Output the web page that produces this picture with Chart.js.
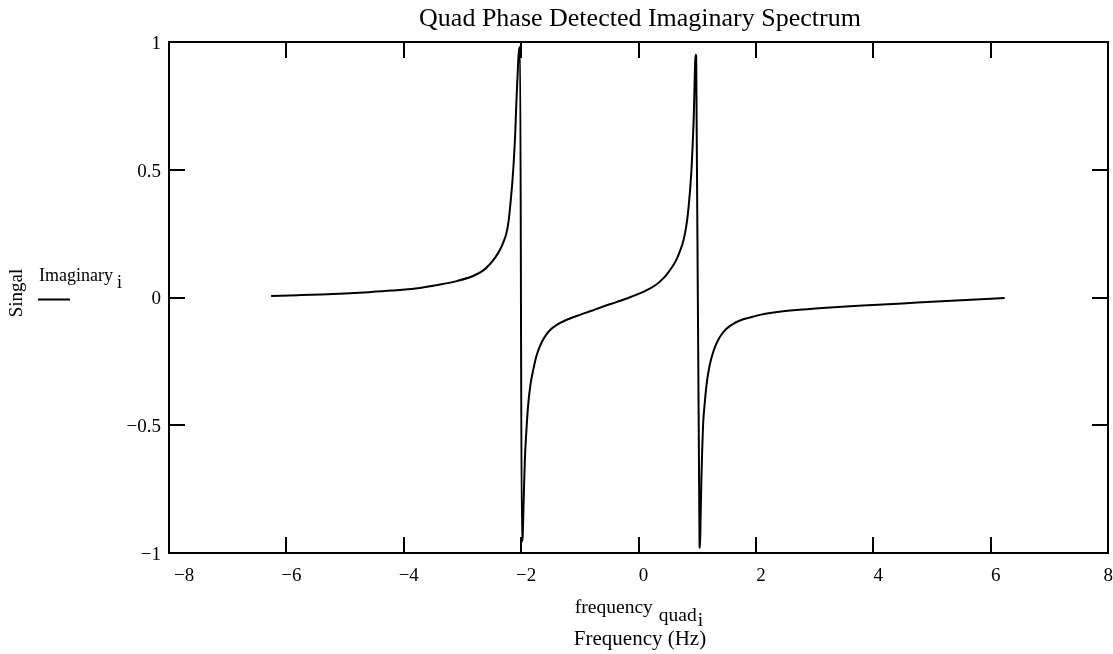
<!DOCTYPE html>
<html>
<head>
<meta charset="utf-8">
<title>Quad Phase Detected Imaginary Spectrum</title>
<script src="https://cdn.jsdelivr.net/npm/chart.js@4/dist/chart.umd.min.js"></script>
<style>
  html, body { margin: 0; padding: 0; background: #ffffff; }
  #wrap { width: 1113px; height: 654px; position: relative; }
  canvas { display: block; }
</style>
</head>
<body>
<div id="wrap"><canvas id="chart" width="1113" height="654"></canvas></div>
<script>
// Frequency axis samples (Hz) and the imaginary part of the quad-detected spectrum
const frequency = [
  -6.26, -5.8, -5.4, -5.0, -4.6, -4.2, -3.8, -3.4, -3.1, -2.82,
  -2.65, -2.53, -2.44, -2.36, -2.30, -2.25, -2.21, -2.18, -2.15, -2.125,
  -2.10, -2.08, -2.06, -2.045, -2.03, -2.018, -1.988, -1.975, -1.955, -1.937,
  -1.91, -1.88, -1.84, -1.80, -1.74, -1.68, -1.60, -1.51, -1.40, -1.25,
  -1.0, -0.8, -0.6, -0.4, -0.2, 0.0, 0.15, 0.3, 0.4, 0.48,
  0.59, 0.65, 0.70, 0.75, 0.79, 0.83, 0.86, 0.885, 0.905, 0.925,
  0.942, 0.955, 0.965, 0.975, 0.983, 1.04, 1.048, 1.06, 1.073, 1.085,
  1.10, 1.13, 1.16, 1.20, 1.245, 1.30, 1.36, 1.43, 1.50, 1.60,
  1.73, 1.90, 2.07, 2.4, 2.8, 3.2, 3.6, 4.0, 4.5, 5.0,
  5.5, 6.0, 6.24
];
const imaginary = [
  0.006, 0.009, 0.012, 0.016, 0.021, 0.027, 0.035, 0.050, 0.064, 0.084,
  0.105, 0.131, 0.157, 0.187, 0.218, 0.252, 0.305, 0.373, 0.45, 0.534,
  0.645, 0.77, 0.87, 0.945, 0.975, 0.98, -0.955, -0.94, -0.78, -0.64,
  -0.52, -0.42, -0.34, -0.29, -0.23, -0.19, -0.155, -0.128, -0.108, -0.09,
  -0.068, -0.052, -0.035, -0.02, -0.004, 0.014, 0.03, 0.05, 0.07, 0.09,
  0.125, 0.15, 0.178, 0.21, 0.248, 0.305, 0.37, 0.44, 0.51, 0.61,
  0.71, 0.83, 0.92, 0.95, 0.945, -0.975, -0.98, -0.84, -0.70, -0.60,
  -0.50, -0.41, -0.34, -0.28, -0.235, -0.195, -0.165, -0.14, -0.122, -0.105,
  -0.09, -0.078, -0.068, -0.056, -0.047, -0.040, -0.034, -0.029, -0.023, -0.017,
  -0.011, -0.005, -0.002
];

// Axis tick values
const xTickValues = [-8, -6, -4, -2, 0, 2, 4, 6, 8];
const yTickValues = [-1, -0.5, 0, 0.5, 1];

const SERIF = '"Liberation Serif", "Times New Roman", serif';
const INK = '#000000';

// Minus sign drawn as a true typographic minus
const fmt = v => (v < 0 ? '\u2212' + String(Math.abs(v)) : String(v));

const points = frequency.map((f, i) => ({ x: f, y: imaginary[i] }));

// Frame, inward ticks on all four sides, titles and the series key
const decorations = {
  id: 'decorations',
  afterDraw(chart) {
    const { ctx, chartArea: a, scales } = chart;
    const xs = scales.x, ys = scales.y;
    const tick = 16;
    ctx.save();
    ctx.strokeStyle = INK;
    ctx.lineWidth = 2;
    ctx.lineCap = 'butt';

    // frame
    ctx.strokeRect(Math.round(a.left), Math.round(a.top),
                   Math.round(a.right) - Math.round(a.left),
                   Math.round(a.bottom) - Math.round(a.top));

    ctx.beginPath();
    xTickValues.slice(1, -1).forEach(v => {
      const px = Math.round(xs.getPixelForValue(v));
      ctx.moveTo(px, a.bottom); ctx.lineTo(px, a.bottom - tick);
      ctx.moveTo(px, a.top); ctx.lineTo(px, a.top + tick);
    });
    yTickValues.slice(1, -1).forEach(v => {
      const py = Math.round(ys.getPixelForValue(v));
      ctx.moveTo(a.left, py); ctx.lineTo(a.left + tick, py);
      ctx.moveTo(a.right, py); ctx.lineTo(a.right - tick, py);
    });
    ctx.stroke();

    ctx.fillStyle = INK;
    ctx.textBaseline = 'alphabetic';

    // title
    ctx.font = '26px ' + SERIF;
    ctx.textAlign = 'center';
    ctx.fillText('Quad Phase Detected Imaginary Spectrum', 640, 26);

    // x axis expression: frequency_quad_i
    ctx.textAlign = 'left';
    ctx.font = '19.5px ' + SERIF;
    const w1 = ctx.measureText('frequency').width;
    const w2 = ctx.measureText('quad').width;
    const w3 = ctx.measureText('i').width;
    const gap = 6;
    const total = w1 + gap + w2 + 1 + w3;
    const x0 = 639 - total / 2;
    ctx.fillText('frequency', x0, 613);
    ctx.fillText('quad', x0 + w1 + gap, 621);
    ctx.fillText('i', x0 + w1 + gap + w2 + 1, 626);

    // x axis caption
    ctx.textAlign = 'center';
    ctx.font = '21px ' + SERIF;
    ctx.fillText('Frequency (Hz)', 640, 645);

    // y axis caption, rotated
    ctx.save();
    ctx.translate(17, 293);
    ctx.rotate(-Math.PI / 2);
    ctx.font = '19px ' + SERIF;
    ctx.textAlign = 'center';
    ctx.textBaseline = 'middle';
    ctx.fillText('Singal', 0, 0);
    ctx.restore();

    // series key: Imaginary_i with line sample
    ctx.textAlign = 'left';
    ctx.font = '18px ' + SERIF;
    ctx.fillText('Imaginary', 39, 281);
    const wi = ctx.measureText('Imaginary').width;
    ctx.fillText('i', 39 + wi + 4, 288);
    ctx.beginPath();
    ctx.moveTo(38, 299.5);
    ctx.lineTo(70, 299.5);
    ctx.stroke();

    ctx.restore();
  }
};

new Chart(document.getElementById('chart'), {
  type: 'scatter',
  data: {
    datasets: [{
      label: 'Imaginary',
      data: points,
      showLine: true,
      borderColor: INK,
      backgroundColor: INK,
      borderWidth: 2,
      pointRadius: 0,
      pointHoverRadius: 0,
      cubicInterpolationMode: 'monotone',
      fill: false
    }]
  },
  options: {
    responsive: false,
    devicePixelRatio: 1,
    animation: false,
    events: [],
    layout: { padding: { top: 42, right: 5, left: 0, bottom: 0 } },
    plugins: {
      legend: { display: false },
      title: { display: false },
      tooltip: { enabled: false }
    },
    scales: {
      x: {
        type: 'linear',
        min: -8,
        max: 8,
        afterBuildTicks: s => { s.ticks = xTickValues.map(v => ({ value: v })); },
        afterFit: s => { s.height = 101; s.paddingLeft = 0; s.paddingRight = 0; },
        grid: { display: false, drawTicks: false },
        border: { display: false },
        ticks: {
          color: INK,
          font: { family: SERIF, size: 19 },
          padding: 12,
          labelOffset: 5,
          align: 'inner',
          maxRotation: 0,
          autoSkip: false,
          callback: v => fmt(v)
        }
      },
      y: {
        type: 'linear',
        min: -1,
        max: 1,
        afterBuildTicks: s => { s.ticks = yTickValues.map(v => ({ value: v })); },
        afterFit: s => { s.width = 169; s.paddingTop = 0; s.paddingBottom = 0; },
        grid: { display: false, drawTicks: false },
        border: { display: false },
        ticks: {
          color: INK,
          font: { family: SERIF, size: 19 },
          padding: 8,
          labelOffset: 2,
          autoSkip: false,
          callback: v => fmt(v)
        }
      }
    }
  },
  plugins: [decorations]
});
</script>
</body>
</html>
